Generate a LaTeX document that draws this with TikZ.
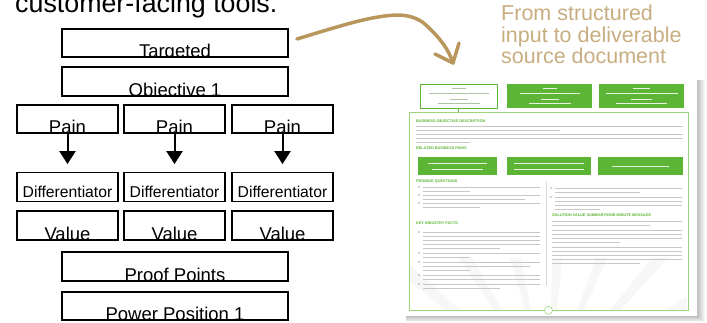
\documentclass[tikz,border=0pt]{standalone}
\usepackage{fontspec}
\setmainfont{Liberation Sans}
\usetikzlibrary{arrows.meta}
\definecolor{tan}{HTML}{B8965C}
\definecolor{lighttan}{HTML}{C8AD80}
\definecolor{docgreen}{HTML}{5CB534}
\definecolor{framegreen}{HTML}{9AD67C}
\newcommand\boxfont{\fontsize{18.5}{18.5}\selectfont}
\newcommand\diffont{\fontsize{15.7}{16}\selectfont}
\tikzset{
  cutbox/.style={draw, line width=1.8pt, inner sep=0pt, minimum height=28.5pt,
    path picture={\node[anchor=base, inner sep=0pt, font=\boxfont]
      at ([yshift=-0.6pt]path picture bounding box.south) {#1};}},
  widebox/.style={cutbox=#1, minimum width=226pt},
  smallbox/.style={cutbox=#1, minimum width=101pt},
  difbox/.style={draw, line width=1.8pt, inner sep=0pt, minimum width=101pt, minimum height=29pt,
    path picture={\node[anchor=base, inner sep=0pt, font=\diffont]
      at ([yshift=3.7pt]path picture bounding box.south) {#1};}},
  downarrow/.style={line width=2pt, -{Triangle[width=16pt,length=13pt]}, shorten >=7.5pt},
  hdrbox/.style={draw=docgreen, fill=white, line width=0.6pt, inner sep=0pt, minimum height=24pt},
  hdrfill/.style={fill=docgreen, inner sep=0pt, minimum height=24pt},
  painfill/.style={fill=docgreen, inner sep=0pt, minimum height=18pt},
  dochead/.style={anchor=west, inner sep=0pt, text=docgreen, font=\fontsize{3.8}{4}\selectfont\bfseries},
  textline/.style={black!22, line width=1pt},
  whiteline/.style={white!85!docgreen, line width=0.9pt}
}
\begin{document}
\begin{tikzpicture}[x=1pt, y=-1pt]
\useasboundingbox (0,0) rectangle (707,322);
% left hand
\node[anchor=base west, inner sep=0pt, font=\fontsize{26.8}{27}\selectfont] (intro) at (15,12) {customer-facing tools.};
\node[widebox=Targeted] (tgt) at (175,43) {};
\node[widebox=Objective 1] (obj) at (175,81.5) {};
\foreach \x [count=\i] in {67.5,174.5,282.5} {
  \node[smallbox=Pain] (pain\i) at (\x,119) {};
  \node[difbox=Differentiator] (diff\i) at (\x,187) {};
  \node[smallbox=Value] (val\i) at (\x,225.5) {};
  \draw[downarrow] (pain\i.south) -- (diff\i.north);
}
\node[widebox=Proof Points] (proof) at (175,266.5) {};
\node[widebox=Power Position 1] (power) at (175,306) {};
% curved arrow
\coordinate (bendstart) at ([xshift=8pt,yshift=4pt]tgt.east);
\coordinate (bendtip) at (453,63);
\draw[tan, line width=3.5pt, line cap=round, line join=round]
  (bendstart) .. controls (340,26) and (370,16) .. (397,15)
  .. controls (413,15) and (422,21) .. (427,26)
  .. controls (440,38) and (449,50) .. (bendtip);
\draw[tan, line width=3.5pt, line cap=round, line join=round]
  (435,54) -- (bendtip) -- (459,43);
\node[anchor=north west, inner sep=0pt, align=left, text=lighttan,
  font=\fontsize{21.5}{21.5}\selectfont] (caption) at (501,5)
  {From structured\\input to deliverable\\source document};
% document shadow
\foreach \s in {1,...,8}
  \fill[black, opacity=0.035] (406,80) rectangle (697+\s,316+0.75*\s);
\node[fill=white, inner sep=0pt, minimum width=294pt, minimum height=239pt] (page) at (550,196.5) {};
% watermark rays
\scope
\clip (410,258) rectangle (687,309);
\foreach \a in {20,38,...,160}
  \fill[black, opacity=0.03] (548,390) -- ++(\a:-190) -- ++(\a+90:-14) -- cycle;
\endscope
% frame and top boxes
\node[draw=framegreen, line width=0.7pt, inner sep=0pt, minimum width=279pt, minimum height=198pt] (frame) at (548.5,211) {};
\node[hdrbox, minimum width=77pt] (hb1) at (458.5,96) {};
\node[hdrfill, minimum width=85pt] (hb2) at (549.5,96) {};
\node[hdrfill, minimum width=85pt] (hb3) at (641.5,96) {};
\draw[docgreen, line width=0.8pt] (hb1.south) -- (hb1.south |- frame.north);
\foreach \dy/\w in {-8/7,-3/30,3/9,7/21} {
  \draw[docgreen!60!black!40, line width=0.8pt] ([xshift=-\w pt, yshift=-\dy pt]hb1.center) -- ([xshift=\w pt, yshift=-\dy pt]hb1.center);
  \draw[whiteline] ([xshift=-\w pt, yshift=-\dy pt]hb2.center) -- ([xshift=\w pt, yshift=-\dy pt]hb2.center);
  \draw[whiteline] ([xshift=-1.2*\w pt, yshift=-\dy pt]hb3.center) -- ([xshift=1.2*\w pt, yshift=-\dy pt]hb3.center);
}
% headings
\node[dochead] (head1) at (416,121) {BUSINESS OBJECTIVE DESCRIPTION};
\node[dochead] (head2) at (416,148) {RELATED BUSINESS PAINS};
\node[dochead] (head3) at (416,182) {PROBING QUESTIONS};
\node[dochead] (head4) at (416,223) {KEY INDUSTRY FACTS};
\node[dochead] (head5) at (552,215) {SOLUTION VALUE SUMMARY/ONE-MINUTE MESSAGE};
% pains
\node[painfill, minimum width=79pt] (bp1) at (457.5,166) {};
\node[painfill, minimum width=84pt] (bp2) at (549,166) {};
\node[painfill, minimum width=85pt] (bp3) at (640.5,166) {};
\foreach \a/\b/\y in {428/487/163, 432/483/169, 514/584/163, 514/584/169, 612/669/166}
  \draw[whiteline] (\a,\y) -- (\b,\y);
% body text
\foreach \a/\b/\y in {416/683/126, 416/560/130, 416/683/134, 416/683/138, 416/470/142,
    423/540/187, 423/470/191, 423/540/195, 423/525/199, 423/540/203, 423/480/207,
    423/540/232, 423/540/236, 423/540/240, 423/540/244, 423/500/248,
    423/540/253, 423/470/257, 423/540/262, 423/530/266, 423/470/270,
    423/540/275, 423/540/279, 423/540/284, 423/500/288,
    555/682/188, 555/640/192, 555/682/197, 555/682/201, 555/682/205, 555/600/209,
    552/682/221, 552/650/225, 552/682/230, 552/682/234, 552/682/238, 552/620/242,
    552/682/247, 552/682/251, 552/682/255, 552/682/259, 552/640/263}
  \draw[textline] (\a,\y) -- (\b,\y);
\foreach \x/\y in {419/187, 419/195, 419/203, 419/232, 419/253, 419/262, 419/275, 419/284, 551/188, 551/197}
  \fill[black!35] (\x,\y) circle (0.8);
\draw[black!15, line width=0.5pt] (546,181) -- (546,286);
\node[circle, draw=framegreen, fill=white, line width=0.6pt, minimum size=8pt, inner sep=0pt] (pgno) at (frame.south) {};
\end{tikzpicture}
\end{document}
